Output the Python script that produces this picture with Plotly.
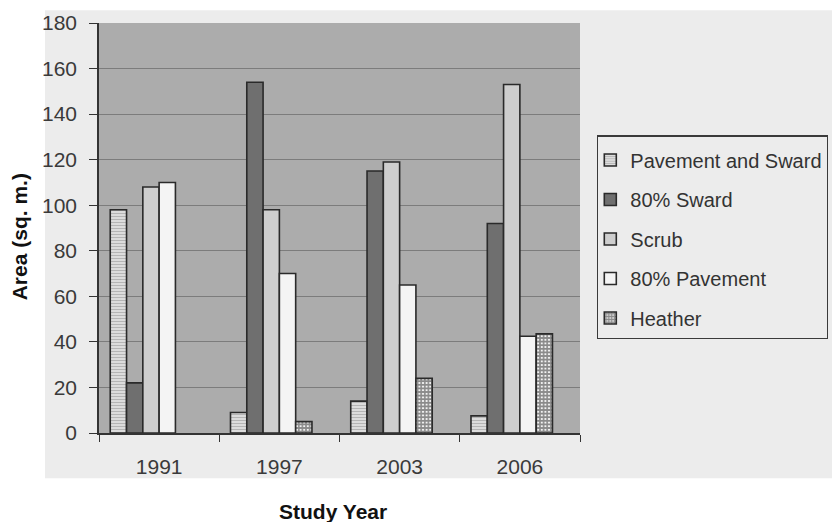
import plotly.graph_objects as go

# Study years (categories) and area of each vegetation class, in sq. m.
years = ["1991", "1997", "2003", "2006"]
pavement_and_sward = [98, 9, 14, 7.5]
sward_80 = [22, 154, 115, 92]
scrub = [108, 98, 119, 153]
pavement_80 = [110, 70, 65, 42.5]
heather = [None, 5, 24, 43.5]  # no heather recorded in 1991

series_names = ["Pavement and Sward", "80% Sward", "Scrub", "80% Pavement", "Heather"]
series_values = [pavement_and_sward, sward_80, scrub, pavement_80, heather]

# Fill styling for each class (greyscale, with hatching for two of them)
styles = [
    dict(color="#dcdcdc", pattern=dict(shape="-", fgcolor="#8a8a8a", bgcolor="#e0e0e0", size=3, solidity=0.4)),
    dict(color="#6f6f6f"),
    dict(color="#cecece"),
    dict(color="#f4f4f4"),
    dict(color="#eeeeee", pattern=dict(shape="+", fgcolor="#222222", bgcolor="#f2f2f2", size=3.6, solidity=0.7)),
]

# Plot-area geometry in pixels
W, H = 832, 522
L, R = 99, 580
T, B = 22.7, 432.7
pw, ph = R - L, B - T


def px_x(x):
    return (x - L) / pw


def px_y(y):
    return (B - y) / ph


bar_w = 0.1355
fig = go.Figure()
for i, (name, vals, st) in enumerate(zip(series_names, series_values, styles)):
    fig.add_trace(go.Bar(
        x=years, y=vals, name=name,
        width=bar_w, offset=-3 * bar_w + i * bar_w,
        marker=dict(line=dict(color="#2a2a2a", width=1.6), **st),
        legendgroup=name,
    ))

font_family = "Liberation Sans, Arial, sans-serif"

fig.update_layout(
    width=W, height=H,
    margin=dict(l=L, r=W - R, t=T, b=H - B, pad=0, autoexpand=False),
    paper_bgcolor="white",
    plot_bgcolor="#acacac",
    barmode="group",
    font=dict(family=font_family, size=20, color="#3a3a3a"),
    showlegend=True,
    legend=dict(
        x=px_x(597), y=px_y(135), xanchor="left", yanchor="top",
        bgcolor="rgba(0,0,0,0)", bordercolor="#3a3a3a", borderwidth=1.3,
        font=dict(family=font_family, size=20, color="#333333"),
        tracegroupgap=10.5, itemwidth=30, indentation=-8,
        title=dict(text=" ", font=dict(size=3)),
    ),
    shapes=[
        # light chart-area background
        dict(type="rect", xref="paper", yref="paper",
             x0=px_x(45), x1=px_x(900), y0=px_y(478), y1=px_y(10),
             fillcolor="#ececec", line=dict(width=0), layer="below"),
        # darker plotting area
        dict(type="rect", xref="paper", yref="paper",
             x0=0, x1=1, y0=0, y1=1,
             fillcolor="#acacac", line=dict(width=0), layer="below"),
    ],
    annotations=[
        dict(text="<b>Study Year</b>", xref="paper", yref="paper",
             x=px_x(333), y=px_y(511), xanchor="center", yanchor="middle",
             showarrow=False, font=dict(family=font_family, size=21, color="#111111")),
        dict(text="<b>Area (sq. m.)</b>", xref="paper", yref="paper",
             x=px_x(19.5), y=px_y(236.5), xanchor="center", yanchor="middle",
             textangle=-90, showarrow=False,
             font=dict(family=font_family, size=21, color="#111111")),
    ],
)

fig.update_xaxes(
    type="category", categoryorder="array", categoryarray=years,
    showline=True, linecolor="#333333", linewidth=1.5,
    ticks="outside", ticklen=7, tickwidth=1.3, tickcolor="#333333",
    tickson="boundaries", showgrid=False, ticklabelstandoff=14,
    tickfont=dict(family=font_family, size=21, color="#3a3a3a"),
)
fig.update_yaxes(
    range=[0, 180], dtick=20, tick0=0,
    showline=True, linecolor="#333333", linewidth=1.5,
    ticks="outside", ticklen=8, tickwidth=1.3, tickcolor="#333333",
    showgrid=True, gridcolor="#7c7c7c", gridwidth=1, zeroline=False,
    ticklabelstandoff=8,
    tickfont=dict(family=font_family, size=21, color="#3a3a3a"),
)

fig.write_html("out.html")
